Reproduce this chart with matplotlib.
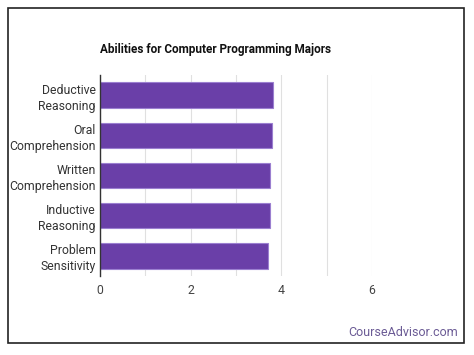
import matplotlib.pyplot as plt
from matplotlib.patches import Rectangle

plt.rcParams['font.family'] = ['Roboto', 'DejaVu Sans']

# abilities, top to bottom
abilities = ['Deductive\nReasoning', 'Oral\nComprehension', 'Written\nComprehension',
             'Inductive\nReasoning', 'Problem\nSensitivity']
scores = [3.82, 3.80, 3.76, 3.74, 3.71]
x_ticks = [0, 2, 4, 6]

fig = plt.figure(figsize=(4.74, 3.55), dpi=100)

# outer frame
W, H = 474, 355
fig.patches.append(Rectangle((8 / W, 1 - 343 / H), (464 - 8) / W, (343 - 8) / H,
                             transform=fig.transFigure, fill=False,
                             edgecolor='#222222', linewidth=1.2))

ax = fig.add_axes([100 / W, 1 - 276 / H, (372 - 100) / W, (276 - 75) / H])

ypos = list(range(len(abilities)))
ax.barh(ypos, scores, height=0.63, color='#6a3fa8', edgecolor='#9b7fd0', linewidth=0.8, zorder=3)
ax.set_ylim(len(abilities) - 0.5, -0.5)
ax.set_yticks(ypos)
ax.set_yticklabels(abilities, fontsize=8.8, color='#333333', linespacing=1.3)
ax.set_xlim(0, 6)
ax.set_xticks(x_ticks)
ax.set_xticklabels([str(t) for t in x_ticks], fontsize=8.8, color='#444444')
ax.set_xticks([1, 2, 3, 4, 5, 6], minor=True)
ax.grid(axis='x', which='both', color='#e0e0e0', linewidth=0.8, zorder=0)
ax.tick_params(axis='y', which='both', length=0, pad=3)
ax.tick_params(axis='x', which='both', length=0, pad=6)
for s in ['top', 'right', 'bottom']:
    ax.spines[s].set_visible(False)
ax.spines['left'].set_color('#333333')
ax.spines['left'].set_linewidth(1.0)
ax.spines['left'].set_zorder(4)

fig.text(100 / W, 1 - 50 / H, 'Abilities for Computer Programming Majors',
         fontsize=8.5, fontweight='bold', color='#111111', va='center', ha='left')
fig.text(458 / W, 1 - 332 / H, 'CourseAdvisor.com', fontsize=9,
         color='#6b5b95', ha='right', va='center')

fig.savefig('out.png', dpi=100)
